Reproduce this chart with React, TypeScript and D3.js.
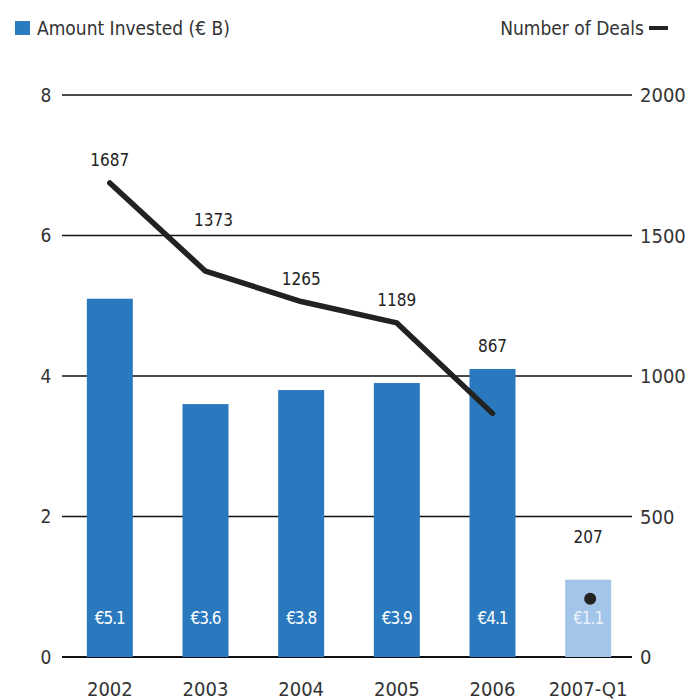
import { useEffect, useRef } from 'react'
import * as d3 from 'd3'

const years = ['2002', '2003', '2004', '2005', '2006', '2007-Q1']
const invested = [5.1, 3.6, 3.8, 3.9, 4.1, 1.1]
const investedLabels = ['€5.1', '€3.6', '€3.8', '€3.9', '€4.1', '€1.1']
const deals = [1687, 1373, 1265, 1189, 867, 207]
const leftTicks = [0, 2, 4, 6, 8]
const rightTicks = [0, 500, 1000, 1500, 2000]

const FONT = '"Liberation Sans Narrow", "DejaVu Sans Condensed", "Roboto Condensed", sans-serif'

export default function App() {
  const ref = useRef<SVGSVGElement>(null)

  useEffect(() => {
    const svg = d3.select(ref.current)
    svg.selectAll('*').remove()

    const left = 62
    const right = 636
    const top = 95
    const bottom = 657

    const x = d3.scalePoint<string>().domain(years).range([left, right]).padding(0.5)
    const yL = d3.scaleLinear().domain([0, 8]).range([bottom, top])
    const yR = d3.scaleLinear().domain([0, 2000]).range([bottom, top])
    const barW = 46

    // legend
    svg.append('rect').attr('x', 15).attr('y', 21).attr('width', 15).attr('height', 14).attr('fill', '#2b7bbf')
    svg.append('text').attr('x', 37).attr('y', 35).text('Amount Invested (€ B)')
      .attr('font-size', 19).attr('fill', '#333').attr('font-family', FONT)
    svg.append('text').attr('x', 644).attr('y', 35).attr('text-anchor', 'end').text('Number of Deals')
      .attr('font-size', 19).attr('fill', '#333').attr('font-family', FONT)
    svg.append('line').attr('x1', 649).attr('x2', 668).attr('y1', 28).attr('y2', 28)
      .attr('stroke', '#222').attr('stroke-width', 4)

    // gridlines
    svg.append('g').selectAll('line').data(leftTicks).enter().append('line')
      .attr('x1', left).attr('x2', right - 4)
      .attr('y1', d => yL(d)).attr('y2', d => yL(d))
      .attr('stroke', '#111').attr('stroke-width', d => (d === 0 ? 2.2 : 1.5))

    // left ticks
    svg.append('g').selectAll('text').data(leftTicks).enter().append('text')
      .attr('x', 46).attr('y', d => yL(d)).attr('dy', '0.35em').attr('text-anchor', 'middle')
      .attr('font-size', 19).attr('fill', '#333').attr('font-family', FONT)
      .text(d => d)

    // right ticks
    svg.append('g').selectAll('text').data(rightTicks).enter().append('text')
      .attr('x', 640).attr('y', d => yR(d)).attr('dy', '0.35em').attr('text-anchor', 'start')
      .attr('font-size', 20).attr('fill', '#333').attr('font-family', FONT)
      .text(d => d)

    // bars
    svg.append('g').selectAll('rect').data(invested).enter().append('rect')
      .attr('x', (_, i) => (x(years[i]) as number) - barW / 2)
      .attr('y', d => yL(d))
      .attr('width', barW)
      .attr('height', d => bottom - yL(d))
      .attr('fill', (_, i) => (i === years.length - 1 ? '#a3c5ea' : '#2a79be'))

    // bar value labels
    svg.append('g').selectAll('text').data(investedLabels).enter().append('text')
      .attr('x', (_, i) => x(years[i]) as number).attr('y', 624).attr('text-anchor', 'middle')
      .attr('font-size', 17).attr('fill', (_, i) => (i === years.length - 1 ? '#eaf2fb' : '#fff'))
      .attr('font-family', FONT).attr('letter-spacing', -1)
      .text(d => d)

    // x labels
    svg.append('g').selectAll('text').data(years).enter().append('text')
      .attr('x', d => x(d) as number).attr('y', 696).attr('text-anchor', 'middle')
      .attr('font-size', 20).attr('fill', '#333').attr('font-family', FONT)
      .text(d => d)

    // deals line (the Q1 value is shown as a dot)
    const lineData = deals.slice(0, deals.length - 1)
    const line = d3.line<number>()
      .x((_, i) => x(years[i]) as number)
      .y(d => yR(d))
    svg.append('path').datum(lineData).attr('d', line)
      .attr('fill', 'none').attr('stroke', '#222').attr('stroke-width', 5.5)
      .attr('stroke-linejoin', 'round').attr('stroke-linecap', 'round')

    const last = deals.length - 1
    svg.append('circle').attr('cx', (x(years[last]) as number) + 2).attr('cy', yR(deals[last]))
      .attr('r', 6).attr('fill', '#222')

    // deal labels
    const extraLift = [0, 28, 0, 0, 0, 20]
    const dxs = [0, 8, 0, 0, 0, 0]
    svg.append('g').selectAll('text').data(deals).enter().append('text')
      .attr('x', (_, i) => (x(years[i]) as number) + dxs[i])
      .attr('y', (d, i) => Math.min(yR(d), yL(invested[i])) - 17 - extraLift[i])
      .attr('text-anchor', 'middle')
      .attr('font-size', 17).attr('fill', '#222').attr('font-family', FONT)
      .text(d => d)
  }, [])

  return (
    <svg ref={ref} width={695} height={700}
      style={{ position: 'absolute', left: 0, top: 0, background: '#fff' }} />
  )
}
